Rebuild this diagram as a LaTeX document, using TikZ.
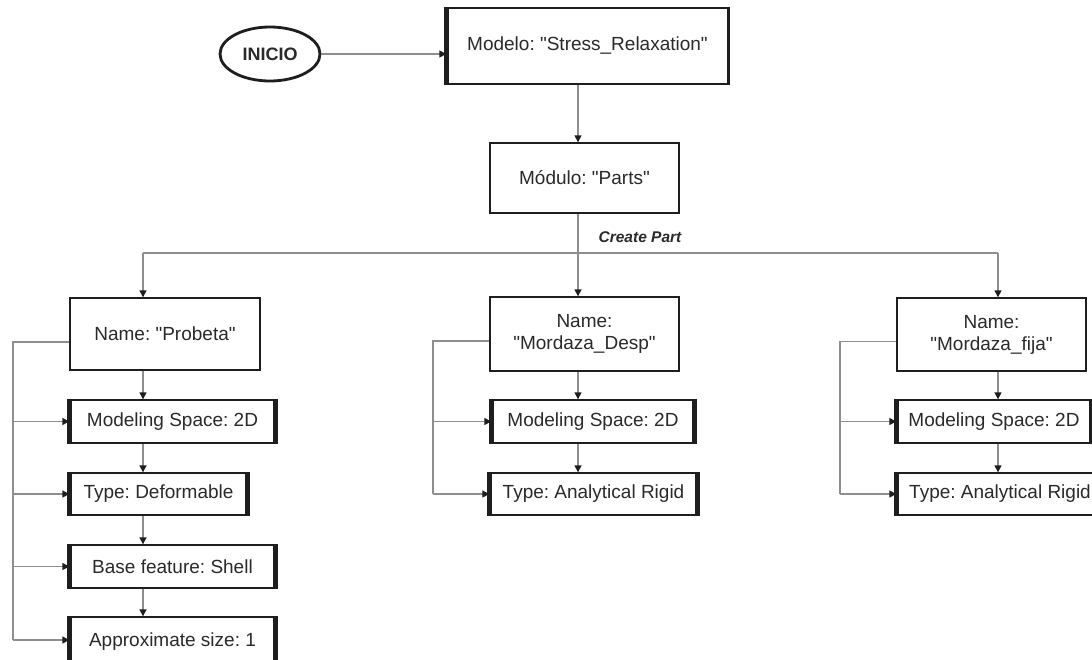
\documentclass[tikz,border=0pt]{standalone}
\usepackage{fontspec}
\setmainfont{Liberation Sans}[Ligatures=TeXOff]
\usetikzlibrary{arrows.meta,shapes.geometric}
\definecolor{lnc}{HTML}{8E8E8E}
\definecolor{bdc}{HTML}{1E1E1E}
\definecolor{txc}{HTML}{2A2A2A}
\newcommand\qq{\symbol{34}}
\frenchspacing
\begin{document}
\begin{tikzpicture}[x=1pt,y=-1pt,
  box/.style={draw=bdc, line width=1.4pt, rectangle, inner sep=0pt, align=center,
    text=txc, font=\fontsize{19}{22}\selectfont},
  conn/.style={draw=lnc, line width=1.4pt},
  arr/.style={conn, -{Triangle[length=7pt,width=7pt,color=bdc]}},
  side/.style={draw=bdc, line width=5pt}]
\useasboundingbox (0,0) rectangle (1092,659);
\clip (0,0) rectangle (1092,659);
\fill[white] (0,0) rectangle (1092,659);

% top
\node[draw=bdc, line width=2.8pt, ellipse, minimum width=100pt, minimum height=54pt, inner sep=0pt,
  text=txc, font=\bfseries\fontsize{18}{22}\selectfont] (ini) at (270,54) {INICIO};
\node[box, minimum width=281pt, minimum height=76pt] (modelo) at (587.5,46) {Modelo: \qq Stress\_Relaxation\qq};
\node[box, minimum width=189pt, minimum height=70pt] (modulo) at (584.5,178) {Módulo: \qq Parts\qq};
\node[text=txc, font=\bfseries\itshape\fontsize{15.5}{18}\selectfont, inner sep=0pt] (cp) at (640,237) {Create Part};

% left column
\node[box, minimum width=190pt, minimum height=72pt] (P1) at (165,334) {Name: \qq Probeta\qq};
\node[box, minimum width=205pt, minimum height=43pt] (P2) at (172.5,421.5) {Modeling Space: 2D};
\node[box, minimum width=177pt, minimum height=42pt] (P3) at (158.5,494) {Type: Deformable};
\node[box, minimum width=205pt, minimum height=43pt] (P4) at (172.5,566.5) {Base feature: Shell};
\node[box, minimum width=205pt, minimum height=50pt] (P5) at (172.5,642) {Approximate size: 1};

% middle column
\node[box, minimum width=189pt, minimum height=74pt] (M1) at (584.5,334) {Name:\\\qq Mordaza\_Desp\qq};
\node[box, minimum width=202pt, minimum height=43pt] (M2) at (593,421.5) {Modeling Space: 2D};
\node[box, minimum width=207pt, minimum height=42pt] (M3) at (593.5,494) {Type: Analytical Rigid};

% right column
\node[box, minimum width=189pt, minimum height=73pt] (R1) at (991.5,334.5) {Name:\\\qq Mordaza\_fija\qq};
\node[box, minimum width=194pt, minimum height=43pt] (R2) at (994,421.5) {Modeling Space: 2D};
\node[box, minimum width=206pt, minimum height=42pt] (R3) at (1000,494) {Type: Analytical Rigid};

% thick side edges
\draw[side] (modelo.north west) -- (modelo.south west);
\draw[draw=bdc, line width=3.5pt] (modelo.north east) -- (modelo.south east);
\foreach \n in {P2,P3,P4,P5,M2,M3,R2,R3}
  \draw[side] (\n.north west) -- (\n.south west) (\n.north east) -- (\n.south east);

% coordinates
\coordinate (tL) at (143,253);
\coordinate (tM) at (578,253);
\coordinate (tR) at (998,253);
\coordinate (bL) at (13,640);
\coordinate (bM) at (433,494);
\coordinate (bR) at (840,494);

% connectors
\draw[arr] (ini.east) -- (modelo.west |- ini.east);
\draw[arr] (modelo.south -| tM) -- (modulo.north -| tM);
\draw[conn] (modulo.south -| tM) -- (tM);
\draw[conn] (tL) -- (tR);
\draw[arr] (tL) -- (P1.north -| tL);
\draw[arr] (tM) -- (M1.north -| tM);
\draw[arr] (tR) -- (R1.north -| tR);

\draw[arr] (P1.south -| tL) -- (P2.north -| tL);
\draw[arr] (P2.south -| tL) -- (P3.north -| tL);
\draw[arr] (P3.south -| tL) -- (P4.north -| tL);
\draw[arr] (P4.south -| tL) -- (P5.north -| tL);
\draw[arr] (M1.south -| tM) -- (M2.north -| tM);
\draw[arr] (M2.south -| tM) -- (M3.north -| tM);
\draw[arr] (R1.south -| tR) -- (R2.north -| tR);
\draw[arr] (R2.south -| tR) -- (R3.north -| tR);

% side buses
\draw[conn] ([yshift=-8pt]P1.west) -| (bL);
\draw[arr] (bL |- P2.west) -- (P2.west);
\draw[arr] (bL |- P3.west) -- (P3.west);
\draw[arr] (bL |- P4.west) -- (P4.west);
\draw[arr] (bL) -- (P5.west |- bL);

\draw[conn] ([yshift=-7pt]M1.west) -| (bM);
\draw[arr] (bM |- M2.west) -- (M2.west);
\draw[arr] (bM) -- (M3.west);

\draw[conn] ([yshift=-7pt]R1.west) -| (bR);
\draw[arr] (bR |- R2.west) -- (R2.west);
\draw[arr] (bR) -- (R3.west);
\end{tikzpicture}
\end{document}
